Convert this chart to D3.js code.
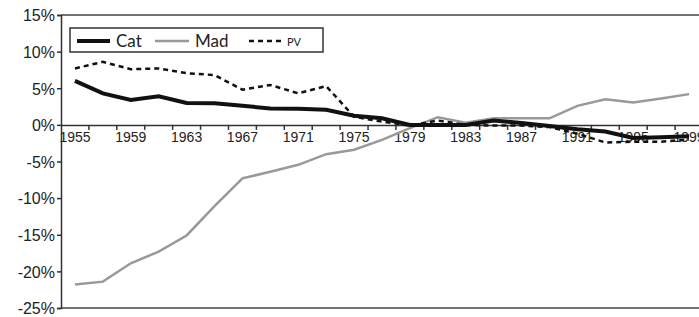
<!DOCTYPE html>
<html>
<head>
<meta charset="utf-8">
<script src="https://cdn.jsdelivr.net/npm/d3@7"></script>
<style>
body{margin:0;background:#fff}
svg{display:block;font-family:Lato,"Open Sans",sans-serif}
</style>
</head>
<body>
<div id="chart"></div>
<script>
var years = d3.range(1955, 2000, 2)
var cat = [6.0,4.3,3.4,3.9,3.0,2.95,2.6,2.25,2.2,2.05,1.25,0.9,0.0,0.0,0.0,0.6,0.25,-0.15,-0.6,-0.9,-1.8,-1.7,-1.55]
var mad = [-21.8,-21.4,-18.9,-17.3,-15.1,-11.1,-7.3,-6.4,-5.45,-4.0,-3.4,-2.05,-0.45,1.05,0.3,0.9,0.9,0.9,2.6,3.5,3.05,3.6,4.2]
var pv = [7.7,8.6,7.6,7.7,7.05,6.8,4.8,5.45,4.3,5.3,1.1,0.45,-0.1,0.6,0.0,-0.1,-0.1,-0.3,-1.2,-2.4,-2.3,-2.3,-2.0]
var yTicks = [15,10,5,0,-5,-10,-15,-20,-25]

var svg = d3.select('#chart').append('svg')
.attr('width',699)
.attr('height',317)

var marginL = 61
var marginU = 15
var width = 642
var height = 293
var g = svg.append('g').attr('transform','translate('+marginL+','+marginU+')')

var x = d3.scaleBand().domain(years).range([0,width]).padding(0)
var y = d3.scaleLinear().domain([-25,15]).range([height,0])
var cx = function(d,i){return x(years[i]) + x.bandwidth()/2}

// top and bottom frame lines
g.append('line').attr('x1',0).attr('x2',width).attr('y1',y(15)).attr('y2',y(15)).attr('stroke','#444').attr('stroke-width',1.5)
g.append('line').attr('x1',0).attr('x2',width).attr('y1',y(-25)).attr('y2',y(-25)).attr('stroke','#444').attr('stroke-width',1.5)

var yaxis = g.append('g').call(d3.axisLeft(y).tickValues(yTicks).tickSize(4).tickFormat(function(d){return d+'%'}))
yaxis.select('.domain').attr('stroke','#333').attr('stroke-width',1.5)
yaxis.selectAll('.tick line').attr('stroke','#333').attr('stroke-width',1.5)
yaxis.selectAll('text').attr('font-size',16).attr('fill','#222').attr('x',-6).attr('dy','0.36em')

// category axis at 0%
var xaxis = g.append('g').attr('transform','translate(0,'+y(0)+')')
.call(d3.axisBottom(x).tickSize(0).tickFormat(function(d,i){return i%2==0 ? d : ''}))
xaxis.select('.domain').attr('stroke','#333').attr('stroke-width',1.5)
xaxis.selectAll('text').attr('font-size',14).attr('fill','#222').attr('y',7)
xaxis.selectAll('.tickmark').data(years.slice(1)).enter().append('line')
.attr('x1',function(d){return x(d)}).attr('x2',function(d){return x(d)})
.attr('y1',0).attr('y2',5).attr('stroke','#333').attr('stroke-width',1.5)

var line = d3.line().x(cx).y(function(d){return y(d)})

g.append('path').datum(mad).attr('d',line).attr('fill','none').attr('stroke','#999').attr('stroke-width',2.5)
g.append('path').datum(pv).attr('d',line).attr('fill','none').attr('stroke','#111').attr('stroke-width',2.5).attr('stroke-dasharray','5,4')
g.append('path').datum(cat).attr('d',line).attr('fill','none').attr('stroke','#111').attr('stroke-width',4)

// legend
var lg = svg.append('g')
lg.append('rect').attr('x',70).attr('y',28).attr('width',253).attr('height',24).attr('fill','#fff').attr('stroke','#333').attr('stroke-width',1.5)
lg.append('line').attr('x1',77).attr('x2',110).attr('y1',41).attr('y2',41).attr('stroke','#111').attr('stroke-width',4)
lg.append('text').attr('x',116).attr('y',47).attr('font-size',17).attr('fill','#222').text('Cat')
lg.append('line').attr('x1',155).attr('x2',189).attr('y1',41).attr('y2',41).attr('stroke','#999').attr('stroke-width',2.5)
lg.append('text').attr('x',195).attr('y',47).attr('font-size',17).attr('fill','#222').text('Mad')
lg.append('line').attr('x1',249).attr('x2',284).attr('y1',41).attr('y2',41).attr('stroke','#111').attr('stroke-width',2.5).attr('stroke-dasharray','5,4')
lg.append('text').attr('x',287).attr('y',46).attr('font-size',11).attr('fill','#222').text('PV')
</script>
</body>
</html>
